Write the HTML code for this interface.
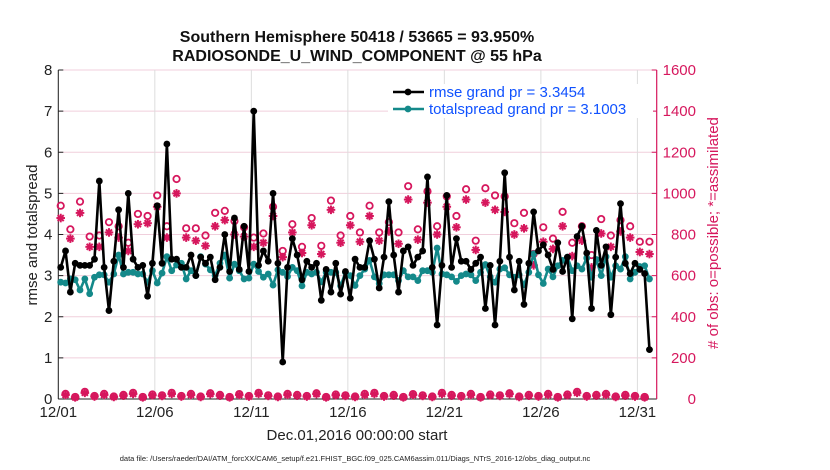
<!DOCTYPE html>
<html><head><meta charset="utf-8"><style>
body{margin:0;background:#fff;}
svg{display:block;font-family:"Liberation Sans",sans-serif;}
</style></head><body>
<svg id="c" width="830" height="470"></svg>
<script>
const rmse=[3.2,3.6,2.6,3.3,3.25,3.25,3.25,3.4,5.3,3.2,2.15,3.35,4.6,3.2,5.0,3.4,3.2,3.25,2.5,3.3,4.7,3.3,6.2,3.4,3.4,3.2,3.2,3.5,3.0,3.45,3.3,3.45,
2.9,3.2,4.0,3.1,4.4,3.15,4.2,3.1,7.0,3.25,3.6,3.35,5.0,3.3,0.9,3.2,3.9,3.5,2.9,3.35,3.2,3.3,2.4,3.15,2.6,3.3,2.55,3.1,2.45,
3.4,3.2,3.2,3.85,3.4,2.7,3.45,4.8,3.5,2.6,3.6,3.7,3.25,3.45,3.6,5.4,3.2,1.8,3.25,4.95,3.2,3.9,3.35,3.35,3.15,3.3,3.45,2.2,3.25,1.8,
3.35,5.5,3.45,2.65,3.35,2.3,3.3,4.55,3.6,3.75,3.5,3.15,3.8,3.1,3.45,1.95,3.95,4.2,3.55,2.2,4.1,3.25,3.7,2.05,3.45,4.75,3.3,3.05,3.3,3.15,3.05,1.2];
const spread=[2.84,2.82,2.92,2.9,2.65,2.92,2.56,2.96,3.02,3.02,2.84,3.04,3.5,3.04,3.08,3.08,3.04,3.04,2.84,3.12,2.82,3.06,3.46,3.12,3.26,3.3,2.92,3.12,3.0,3.46,3.28,3.14,
3.0,3.3,3.5,2.94,3.28,3.12,2.92,2.94,3.28,3.1,2.96,3.04,2.77,3.14,3.08,2.98,3.2,3.12,2.75,3.08,3.04,3.08,2.85,3.08,3.08,3.08,2.75,3.08,3.0,
2.76,3.0,3.16,3.37,2.97,2.81,3.02,3.02,3.02,2.88,3.12,2.97,2.97,2.88,3.12,3.12,3.08,3.67,3.04,3.02,2.97,2.86,3.0,3.04,3.02,2.88,3.08,3.27,2.97,2.84,
3.16,3.19,3.02,2.96,3.02,2.78,3.08,3.53,3.02,2.81,3.16,2.97,3.24,3.37,3.45,3.12,3.24,3.16,3.43,2.96,3.39,3.0,3.46,2.96,3.24,3.16,3.46,2.92,3.08,3.22,3.24,2.92];
const possibleMain=[940,825,960,790,795,860,840,760,900,890,990,840,1070,830,830,795,905,
915,865,835,785,805,935,720,850,740,880,745,965,795,890,810,
940,810,860,810,1035,825,1010,840,985,890,1020,770,1025,990,985,
855,905,705,835,780,910,760,840,700,875,795,870,840,765,765];
const assimMain=[880,780,905,740,740,810,785,720,850,855,935,785,1000,785,770,745,840,
870,800,790,740,760,890,690,810,710,845,705,920,760,845,765,
890,770,815,755,970,775,955,800,935,835,970,725,955,920,910,
800,830,650,765,730,840,695,770,640,805,740,815,785,715,705];
const possibleOff=[25,10,35,15,25,12,20,30,10,22,18,30,15,25,12,28,20,10,24,15,30,18,12,25,20,15,28,10,22,18,12,25,30,15,20,10,24,18,12,30,20,15,25,10,22,18,28,12,20,15,25,10,22,35,15,20,25,12,20,15,10];
const assimOff=[20,8,30,12,20,10,16,25,8,18,15,25,12,20,10,24,16,8,20,12,25,15,10,20,16,12,24,8,18,15,10,20,25,12,16,8,20,15,10,25,16,12,20,8,18,15,24,10,16,12,20,8,18,30,12,16,20,10,16,12,8];
const xTicks=["12/01","12/06","12/11","12/16","12/21","12/26","12/31"];
const yTicks=[0,1,2,3,4,5,6,7,8];
const y2Ticks=[0,200,400,600,800,1000,1200,1400,1600];

const L=58.3,R=656.7,T=70,B=399;
const xs=d=>L+(d/31)*(R-L);
const ys=v=>B-(v/8)*(B-T);
const y2=v=>B-(v/1600)*(B-T);
const dayOf=i=>0.125+i*0.25;
const NS="http://www.w3.org/2000/svg";
const svg=document.getElementById('c');
function mk(tag,attrs,parent){const e=document.createElementNS(NS,tag);for(const k in attrs)e.setAttribute(k,attrs[k]);(parent||svg).appendChild(e);return e;}
const CR="#d6175d",TE="#14898a";

yTicks.forEach((v,i)=>{const g=mk('line',{x1:L,x2:R,y1:ys(v),y2:ys(v),stroke:'#f0cfdc','stroke-width':1});

});
xTicks.forEach((t,i)=>{const x=xs(i*5);const g=mk('line',{x1:x,x2:x,y1:T,y2:B,stroke:'#dddddd','stroke-width':1});


const tx=mk('text',{x:x,y:B+18,'font-size':15,'text-anchor':'middle',fill:'#222'});tx.textContent=t;

});
yTicks.forEach(v=>{const tx=mk('text',{x:L-6,y:ys(v)+5,'font-size':15,'text-anchor':'end',fill:'#222'});tx.textContent=v;


mk('line',{x1:L,x2:L+5,y1:ys(v),y2:ys(v),stroke:'#222'});});
y2Ticks.forEach(v=>{const tx=mk('text',{x:696,y:y2(v)+5,'font-size':15,'text-anchor':'end',fill:CR});tx.textContent=v;


mk('line',{x1:R-5,x2:R,y1:y2(v),y2:y2(v),stroke:CR});});
mk('line',{x1:L,x2:L,y1:T,y2:B,stroke:'#222','stroke-width':1});
mk('line',{x1:L,x2:R,y1:B,y2:B,stroke:'#222','stroke-width':1});
mk('line',{x1:R,x2:R,y1:T,y2:B,stroke:CR,'stroke-width':1.2});

function circ(x,y,name){const c=mk('circle',{cx:x,cy:y,r:3.2,fill:'none',stroke:CR,'stroke-width':1.8});

}
function star(x,y,name){const g=mk('g',{stroke:CR,'stroke-width':2});


const s=4.3;mk('line',{x1:x-s,x2:x+s,y1:y,y2:y},g);mk('line',{x1:x,x2:x,y1:y-s,y2:y+s},g);
mk('line',{x1:x-s*.7,x2:x+s*.7,y1:y-s*.7,y2:y+s*.7},g);mk('line',{x1:x-s*.7,x2:x+s*.7,y1:y+s*.7,y2:y-s*.7},g);}
possibleMain.forEach((v,k)=>circ(xs(dayOf(2*k)),y2(v),'possible-obs-marker'));
assimMain.forEach((v,k)=>star(xs(dayOf(2*k)),y2(v),'assimilated-obs-marker'));
possibleOff.forEach((v,k)=>circ(xs(dayOf(2*k+1)),y2(v),'possible-obs-marker'));
assimOff.forEach((v,k)=>star(xs(dayOf(2*k+1)),y2(v),'assimilated-obs-marker'));

function series(arr,col,name){
const p=mk('polyline',{points:arr.map((v,i)=>xs(dayOf(i))+','+ys(v)).join(' '),fill:'none',stroke:col,'stroke-width':2.6,'stroke-linejoin':'round'});


arr.forEach((v,i)=>{const c=mk('circle',{cx:xs(dayOf(i)),cy:ys(v),r:3.4,fill:col});

});}
series(spread,TE,'totalspread');
series(rmse,'#000','rmse');
</script>
<svg width="830" height="470" style="position:absolute;left:0;top:0;font-family:'Liberation Sans',sans-serif">
<text x="357" y="42" font-size="16" font-weight="bold" text-anchor="middle" fill="#111">Southern Hemisphere 50418 / 53665 = 93.950%</text>
<text x="357" y="61" font-size="16" font-weight="bold" text-anchor="middle" fill="#111">RADIOSONDE_U_WIND_COMPONENT @ 55 hPa</text>
<text transform="translate(37,235) rotate(-90)" font-size="15" text-anchor="middle" fill="#222">rmse and totalspread</text>
<text transform="translate(718,233) rotate(-90)" font-size="15" text-anchor="middle" fill="#d6175d"># of obs: o=possible; *=assimilated</text>
<text x="357" y="440" font-size="15" text-anchor="middle" fill="#222">Dec.01,2016 00:00:00 start</text>
<text x="355" y="461" font-size="7.5" text-anchor="middle" fill="#222">data file: /Users/raeder/DAI/ATM_forcXX/CAM6_setup/f.e21.FHIST_BGC.f09_025.CAM6assim.011/Diags_NTrS_2016-12/obs_diag_output.nc</text>
<g>
<rect x="388" y="84" width="265" height="34" fill="#fff"/>
<g>
<line x1="393" x2="424" y1="92" y2="92" stroke="#000" stroke-width="2.6"/><circle cx="408" cy="92" r="3.4" fill="#000"/>
<text x="429" y="97" font-size="15" fill="#1052ff">rmse grand pr = 3.3454</text></g>
<g>
<line x1="393" x2="424" y1="109" y2="109" stroke="#14898a" stroke-width="2.6"/><circle cx="408" cy="109" r="3.4" fill="#14898a"/>
<text x="429" y="114" font-size="15" fill="#1052ff">totalspread grand pr = 3.1003</text></g>
</g>
</svg>
</body></html>
